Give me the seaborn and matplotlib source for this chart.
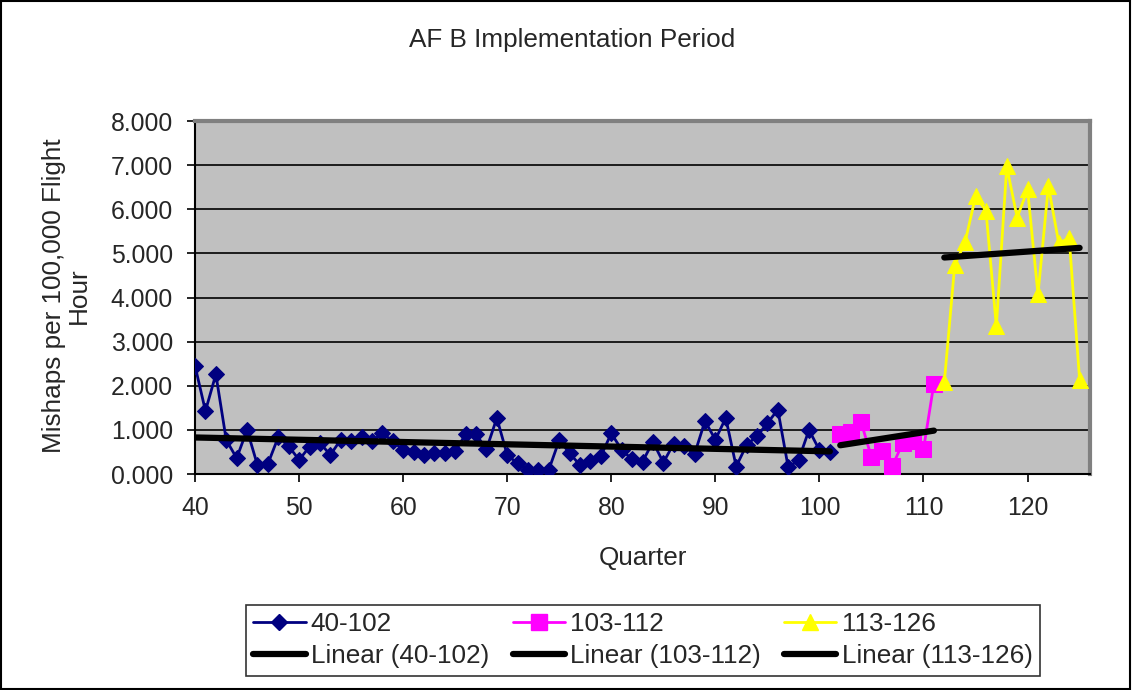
import numpy as np
import pandas as pd
import matplotlib
matplotlib.use('Agg')
import matplotlib.pyplot as plt
from matplotlib.lines import Line2D
from matplotlib.patches import Rectangle
import seaborn as sns

# quarter numbers and mishap rates
q1 = list(range(40, 102))
rate1 = [2.45, 1.43, 2.26, 0.77, 0.36, 1.00, 0.20, 0.23, 0.84, 0.63,
         0.32, 0.62, 0.71, 0.43, 0.78, 0.75, 0.84, 0.75, 0.92, 0.75,
         0.54, 0.50, 0.43, 0.47, 0.47, 0.52, 0.90, 0.90, 0.56, 1.27,
         0.43, 0.24, 0.10, 0.10, 0.10, 0.77, 0.47, 0.20, 0.30, 0.41,
         0.92, 0.55, 0.33, 0.28, 0.73, 0.26, 0.69, 0.63, 0.45, 1.20,
         0.78, 1.27, 0.17, 0.66, 0.86, 1.15, 1.46, 0.15, 0.32, 1.00,
         0.54, 0.50]
q2 = list(range(102, 112))
rate2 = [0.90, 0.95, 1.18, 0.38, 0.53, 0.18, 0.70, 0.75, 0.56, 2.05]
q3 = list(range(112, 126))
rate3 = [2.08, 4.73, 5.26, 6.29, 5.97, 3.35, 6.97, 5.81, 6.45, 4.07,
         6.53, 5.23, 5.35, 2.14]

labels = ['40-102', '103-112', '113-126']
colors = ['#000080', '#FF00FF', '#FFFF00']
markers = ['D', 's', '^']
msizes = [8.5, 11, 11]

sns.set_style("white")
plt.rcParams['font.family'] = ['Liberation Sans', 'DejaVu Sans']
FS = 18.8   # title, labels, legend
TFS = 17.8  # tick labels

fig = plt.figure(figsize=(11.32, 6.9), dpi=100)
ax = fig.add_axes([0.1723, 0.313, 0.7906, 0.5116])
ax.set_facecolor('#C0C0C0')

series = [(q1, rate1), (q2, rate2), (q3, rate3)]
handles = []
for (xs, ys), lab, c, m, ms in zip(series, labels, colors, markers, msizes):
    df = pd.DataFrame({'Quarter': xs, 'Rate': ys})
    sns.lineplot(data=df, x='Quarter', y='Rate', ax=ax, color=c, lw=2,
                 marker=m, markersize=ms, markeredgecolor=c, zorder=3)
    sns.regplot(data=df, x='Quarter', y='Rate', ax=ax, scatter=False, ci=None,
                truncate=True, line_kws={'color': 'black', 'lw': 4.5,
                                         'solid_capstyle': 'round', 'zorder': 4})
    handles.append(Line2D([], [], color=c, lw=2, marker=m, markersize=ms,
                          markeredgecolor=c))
    handles.append(Line2D([], [], color='black', lw=4.5))

ax.set_xlim(40, 126)
ax.set_ylim(0, 8)
ax.set_xticks(range(40, 121, 10))
ax.set_yticks(range(0, 9))
ax.yaxis.set_major_formatter(matplotlib.ticker.FormatStrFormatter('%.3f'))
ax.grid(axis='y', color='black', lw=1.2, zorder=1)
ax.set_axisbelow(True)
ax.tick_params(axis='both', direction='out', length=6, width=1.2, color='black',
               labelsize=TFS, pad=10, left=True, bottom=True)
ax.set_xlabel('')
ax.set_ylabel('')
for side in ['top', 'right']:
    ax.spines[side].set_color('#808080')
    ax.spines[side].set_linewidth(3)
for side in ['left', 'bottom']:
    ax.spines[side].set_color('black')
    ax.spines[side].set_linewidth(1.5)

fig.text(0.505, 0.942, 'AF B Implementation Period', ha='center', va='center', fontsize=FS)
fig.text(0.568, 0.191, 'Quarter', ha='center', va='center', fontsize=FS)
fig.text(0.059, 0.571, 'Mishaps per 100,000 Flight\nHour', ha='center', va='center',
         rotation=90, multialignment='center', fontsize=FS, linespacing=1.05)

leg_labels = ['40-102', 'Linear (40-102)', '103-112', 'Linear (103-112)',
              '113-126', 'Linear (113-126)']
leg = fig.legend(handles, leg_labels, ncol=3, loc='center', bbox_to_anchor=(0.568, 0.072),
                 fontsize=FS, frameon=True, fancybox=False, handlelength=2.0,
                 handletextpad=0.2, columnspacing=0.9, borderpad=0.3, labelspacing=0.3,
                 borderaxespad=0)
leg.get_frame().set_edgecolor('black')
leg.get_frame().set_linewidth(1.2)

fig.add_artist(Rectangle((0.001, 0.002), 0.997, 0.996, transform=fig.transFigure,
                         fill=False, edgecolor='black', lw=1.5))

fig.savefig('out.png', dpi=100)
